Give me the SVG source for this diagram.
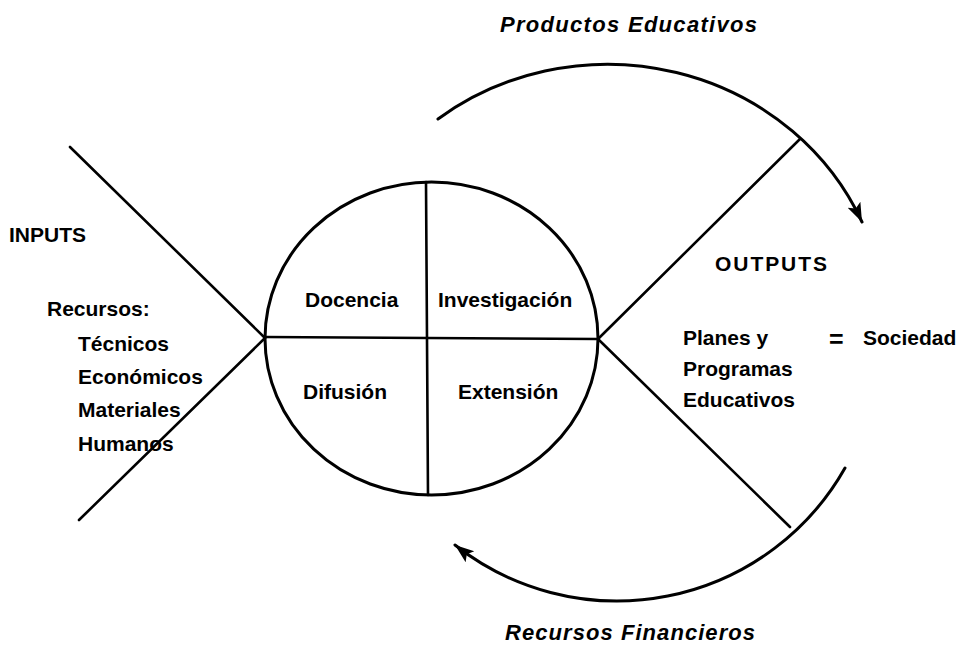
<svg xmlns="http://www.w3.org/2000/svg" width="966" height="646" viewBox="0 0 966 646">
  <style>
    .ln { stroke: #000; stroke-width: 2.6; fill: none; stroke-linecap: round; }
    .arc { stroke: #000; stroke-width: 3; fill: none; stroke-linecap: round; }
    .t { font-family: "Liberation Sans", Arial, sans-serif; font-size: 21px; font-weight: bold; fill: #000; }
    .ti { font-family: "Liberation Sans", Arial, sans-serif; font-size: 22px; font-weight: bold; font-style: italic; fill: #000; }
  </style>
  <defs>
    <marker id="head" markerUnits="userSpaceOnUse" markerWidth="20" markerHeight="16" viewBox="0 0 20 16" refX="19" refY="8" orient="auto">
      <path d="M0,1 L19,8 L0,15 L4,8 z" fill="#000"/>
    </marker>
  </defs>
  <rect width="966" height="646" fill="#fff"/>

  <!-- funnel lines on both sides of the system -->
  <g id="funnel">
    <line class="ln" x1="70" y1="147" x2="265" y2="338"/>
    <line class="ln" x1="265" y1="338" x2="79" y2="520"/>
    <line class="ln" x1="598" y1="339" x2="800" y2="139"/>
    <line class="ln" x1="598" y1="339" x2="790" y2="527"/>
  </g>

  <!-- central system: four functions -->
  <g id="system">
    <ellipse class="arc" cx="431.5" cy="338.5" rx="166.5" ry="156.5"/>
    <line class="ln" x1="426" y1="182" x2="428" y2="495"/>
    <line class="ln" x1="265" y1="337" x2="598" y2="339"/>
    <text class="t" x="305" y="307">Docencia</text>
    <text class="t" x="438" y="307">Investigación</text>
    <text class="t" x="303" y="399">Difusión</text>
    <text class="t" x="458" y="399">Extensión</text>
  </g>

  <g id="inputs">
    <text class="t" x="9" y="242">INPUTS</text>
    <text class="t" x="47" y="316">Recursos:</text>
    <text class="t" x="78" y="351">Técnicos</text>
    <text class="t" x="78" y="384">Económicos</text>
    <text class="t" x="78" y="417">Materiales</text>
    <text class="t" x="78" y="451">Humanos</text>
  </g>

  <g id="outputs">
    <text class="t" x="715" y="271" textLength="112">OUTPUTS</text>
    <text class="t" x="683" y="345">Planes y</text>
    <text class="t" x="683" y="376">Programas</text>
    <text class="t" x="683" y="407">Educativos</text>
    <text class="t" x="829" y="348" style="font-size:25px">=</text>
    <text class="t" x="863" y="345">Sociedad</text>
  </g>

  <!-- feedback flows -->
  <g id="connectors">
    <path class="arc" marker-end="url(#head)" d="M438,119 A278 264 0 0 1 862,222"/>
    <path class="arc" marker-end="url(#head)" d="M845,468 A262 262 0 0 1 455,545"/>
  </g>

  <g id="flow-labels">
    <text class="ti" x="500" y="32" textLength="257">Productos Educativos</text>
    <text class="ti" x="505" y="640" textLength="250">Recursos Financieros</text>
  </g>
</svg>
